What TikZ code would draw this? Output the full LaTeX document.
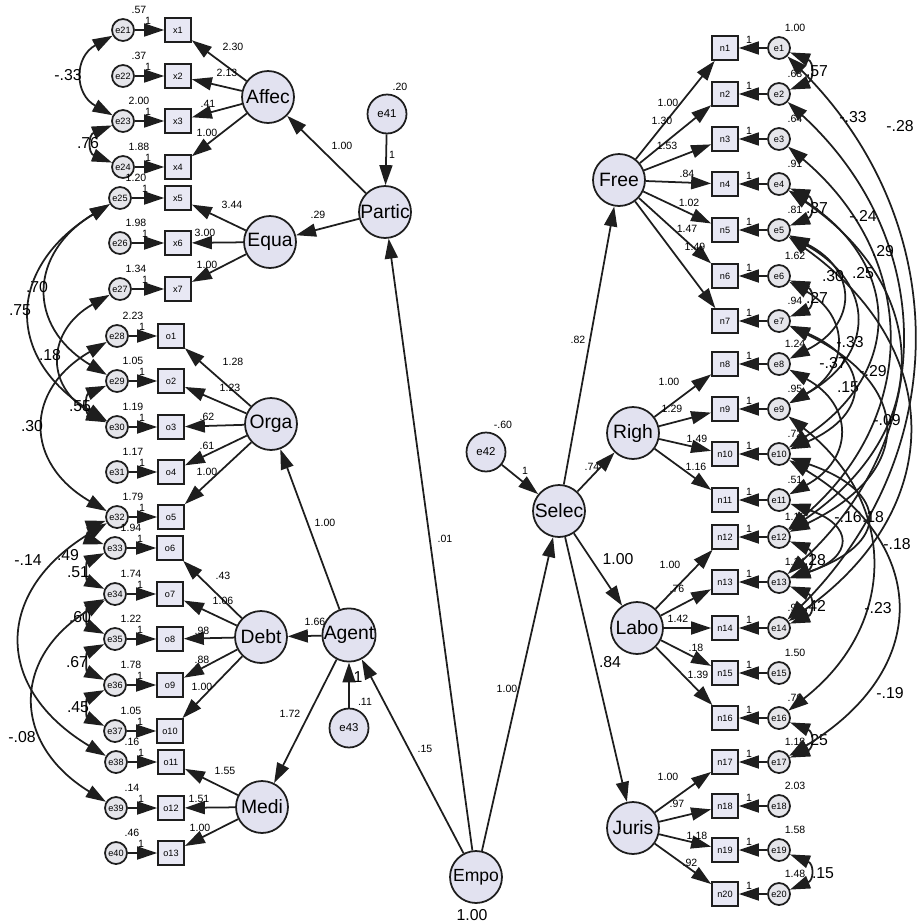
\documentclass[tikz,border=0pt]{standalone}
\usepackage{fontspec}
\setmainfont{Liberation Sans}
\usetikzlibrary{arrows.meta, positioning}
\definecolor{latfill}{RGB}{226,226,240}
\definecolor{errfill}{RGB}{229,229,234}
\definecolor{boxfill}{RGB}{232,232,244}
\definecolor{edge}{RGB}{30,30,30}

\begin{document}
\begin{tikzpicture}[
    x=0.02cm, y=-0.02cm,
    >={Triangle[length=4mm, width=2.6mm]},
    latent/.style={circle, draw=edge, fill=latfill, line width=1pt, minimum size=1.04cm, inner sep=0pt, font=\fontsize{11}{13}\selectfont},
    resid/.style={circle, draw=edge, fill=errfill, line width=1pt, minimum size=0.44cm, inner sep=0pt, font=\fontsize{5.2}{6}\selectfont},
    bigresid/.style={resid, fill=latfill, minimum size=0.78cm, font=\fontsize{6.5}{7}\selectfont},
    indic/.style={rectangle, draw=edge, fill=boxfill, line width=1pt, minimum width=0.52cm, minimum height=0.48cm, inner sep=0pt, font=\fontsize{5.2}{6}\selectfont},
    arrow/.style={->, draw=edge, line width=1pt},
    cov/.style={<->, draw=edge, line width=1pt},
    est/.style={inner sep=0pt, font=\fontsize{6}{7}\selectfont},
    bigest/.style={inner sep=0pt, font=\fontsize{9}{10}\selectfont}
]
    \useasboundingbox (0,0) rectangle (917,923);

    % Latent variables
    \node[latent] (Affec) at (268,97) {Affec};
    \node[latent] (Equa) at (270,242) {Equa};
    \node[latent] (Partic) at (385,212) {Partic};
    \node[latent] (Orga) at (271,424) {Orga};
    \node[latent] (Debt) at (261,637) {Debt};
    \node[latent] (Agent) at (349,635) {Agent};
    \node[latent] (Medi) at (262,807) {Medi};
    \node[latent, font=\fontsize{10}{12}\selectfont] (Empo) at (476,877) {Empo};
    \node[latent] (Selec) at (559,511) {Selec};
    \node[latent] (Free) at (619,180) {Free};
    \node[latent] (Righ) at (633,433) {Righ};
    \node[latent] (Labo) at (637,628) {Labo};
    \node[latent] (Juris) at (633,828) {Juris};
    \node[bigresid] (e41) at (387,114) {e41};
    \node[bigresid] (e42) at (486,452) {e42};
    \node[bigresid] (e43) at (349,728) {e43};

    % Left indicators
    \foreach \e/\b/\ex/\bx/\y/\v in {21/x1/123/178/30/.57, 22/x2/123/178/76/.37, 23/x3/123/178/121/2.00,
        24/x4/123/178/167/1.88, 25/x5/120/178/198/1.20, 26/x6/120/178/243/1.98, 27/x7/120/178/289/1.34,
        28/o1/117/171/336/2.23, 29/o2/117/171/381/1.05, 30/o3/117/171/427/1.19, 31/o4/117/171/472/1.17,
        32/o5/117/171/517/1.79, 33/o6/115/170/548/1.94, 34/o7/115/170/594/1.74, 35/o8/115/170/639/1.22,
        36/o9/115/170/685/1.78, 37/o10/115/170/731/1.05, 38/o11/116/171/762/.16, 39/o12/116/171/808/.14,
        40/o13/116/171/853/.46} {
        \node[resid] (e\e) at (\ex,\y) {e\e};
        \node[indic] (\b) at (\bx,\y) {\b};
        \draw[arrow] (e\e) -- (\b);
        \node[est] at (\ex+25,\y-9) {1};
        \node[est] at (\ex+16,\y-20) {\v};
    }

    % Right indicators
    \foreach \i/\y/\v in {1/48/1.00, 2/94/.63, 3/139/.64, 4/184/.91, 5/230/.81, 6/276/1.62, 7/321/.94,
        8/364/1.24, 9/409/.95, 10/454/.72, 11/500/.51, 12/537/1.16, 13/582/1.14, 14/628/.98,
        15/673/1.50, 16/718/.76, 17/762/1.18, 18/806/2.03, 19/850/1.58, 20/894/1.48} {
        \node[indic] (n\i) at (725,\y) {n\i};
        \node[resid] (e\i) at (779,\y) {e\i};
        \draw[arrow] (e\i) -- (n\i);
        \node[est] at (749,\y-8) {1};
        \node[est] at (795,\y-20) {\v};
    }

    % Paths
    \foreach \a/\b/\l/\lx/\ly in {Affec/x1/2.30/233/47, Affec/x2/2.13/227/73, Affec/x3/.41/208/104, Affec/x4/1.00/207/133,
        Equa/x5/3.44/232/205, Equa/x6/3.00/205/233, Equa/x7/1.00/207/265,
        Orga/o1/1.28/233/362, Orga/o2/1.23/230/388, Orga/o3/.62/207/417, Orga/o4/.61/207/446, Orga/o5/1.00/207/472,
        Debt/o6/.43/223/576, Debt/o7/1.06/223/601, Debt/o8/.98/202/631, Debt/o9/.88/202/660, Debt/o10/1.00/202/687,
        Medi/o11/1.55/225/771, Medi/o12/1.51/199/799, Medi/o13/1.00/200/828,
        Partic/Affec/1.00/342/146, Partic/Equa/.29/318/215, e41/Partic/1/392/155,
        Agent/Orga/1.00/325/523, Agent/Debt/1.66/315/622, Agent/Medi/1.72/290/714,
        Empo/Partic/.01/445/539, Empo/Agent/.15/425/749, Empo/Selec/1.00/507/689,
        e42/Selec/1/525/471, Selec/Free/.82/578/340, Selec/Righ/.74/592/467,
        Free/n1/1.00/668/103, Free/n2/1.30/662/121, Free/n3/1.53/667/146, Free/n4/.84/687/174,
        Free/n5/1.02/689/203, Free/n6/1.47/687/229, Free/n7/1.49/695/247,
        Righ/n8/1.00/669/382, Righ/n9/1.29/672/409, Righ/n10/1.49/697/439, Righ/n11/1.16/696/467,
        Labo/n12/1.00/670/565, Labo/n13/.76/677/589, Labo/n14/1.42/678/619, Labo/n15/.18/696/648, Labo/n16/1.39/698/675,
        Juris/n17/1.00/668/777, Juris/n18/.97/677/804, Juris/n19/1.18/697/836, Juris/n20/.92/690/863} {
        \draw[arrow] (\a) -- (\b);
        \node[est] at (\lx,\ly) {\l};
    }
    \draw[arrow] (e43) -- (Agent);
    \node[bigest] at (358,677) {1};
    \draw[arrow] (Selec) -- (Labo);
    \node[bigest] at (618,559) {1.00};
    \draw[arrow] (Selec) -- (Juris);
    \node[bigest] at (610,662) {.84};

    % Variances
    \node[est] at (400,87) {.20};
    \node[est] at (365,702) {.11};
    \node[est] at (503,425) {-.60};
    \node[bigest] at (472,915) {1.00};

    % Covariances, left
    \foreach \a/\b/\dx/\dy/\l/\lx/\ly in {21/23/-49/27/-.33/68/75, 23/24/-35/14/.76/88/143,
        25/29/-91/55/.70/37/287, 25/30/-113/69/.75/20/310, 27/30/-73/41/.18/50/355,
        29/30/-32/14/.55/80/406, 28/32/-93/54/.30/32/426, 32/33/-27/9/.49/68/555,
        33/34/-29/14/.51/78/572, 34/35/-29/14/.60/80/617, 35/36/-29/14/.67/77/662,
        36/37/-29/14/.45/78/707, 32/38/-123/74/-.14/28/560, 34/39/-104/64/-.08/22/737} {
        \draw[cov] (e\a) .. controls +(\dx,\dy) and +(\dx,-\dy) .. (e\b);
        \node[bigest] at (\lx,\ly) {\l};
    }

    % Covariances, right
    \foreach \a/\b/\dx/\dy/\l/\lx/\ly in {1/2/35/14/.57/817/71, 4/5/35/14/.37/817/208, 6/7/35/14/.27/817/298,
        12/13/35/14/.28/815/560, 13/14/35/14/.42/815/606, 16/17/35/14/.25/817/740, 19/20/35/14/.15/823/873,
        1/14/175/174/-.28/900/126, 2/13/159/146/-.33/853/117, 3/12/141/119/-.24/863/216,
        4/12/155/106/-.09/887/420, 4/10/124/81/.29/883/251, 5/9/97/54/.25/863/273,
        5/14/168/119/-.18/897/544, 5/8/79/40/.30/833/276, 6/9/71/40/.15/848/387,
        7/10/92/40/-.33/850/342, 7/12/135/65/-.29/873/371, 8/11/75/41/-.37/833/363,
        10/13/111/38/.18/873/517, 11/13/75/25/-.16/848/517, 9/16/119/93/-.23/878/608,
        10/17/152/92/-.19/890/693} {
        \draw[cov] (e\a) .. controls +(\dx,\dy) and +(\dx,-\dy) .. (e\b);
        \node[bigest] at (\lx,\ly) {\l};
    }
\end{tikzpicture}
\end{document}
